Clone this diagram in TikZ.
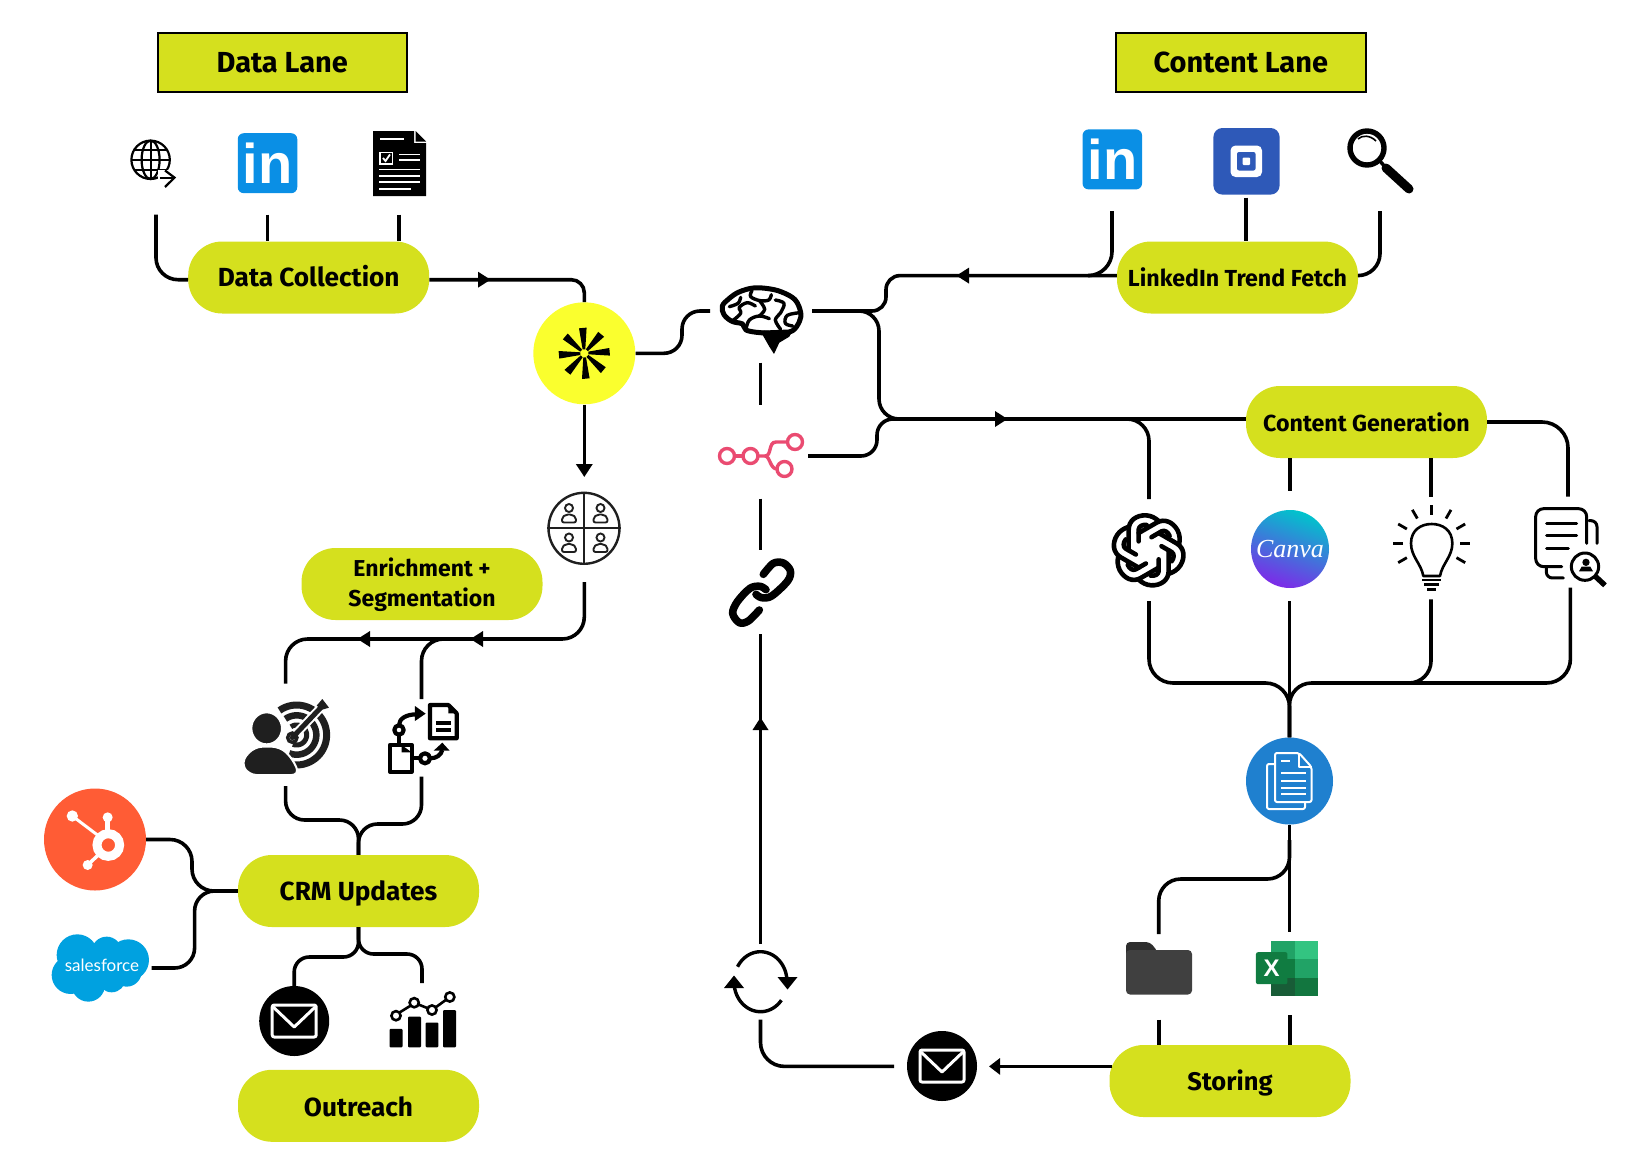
\documentclass[tikz,border=0pt]{standalone}
\usepackage{fontspec}
\setmainfont{Fira Sans}
\newfontfamily\lab{Fira Sans}
\newfontfamily\sflogo{Lato}
\newfontfamily\inlogo{Liberation Sans}
\newfontfamily\canvafont{Liberation Serif}
\usetikzlibrary{arrows.meta,shapes.geometric}
\definecolor{lime}{HTML}{D5E01E}
\definecolor{ylw}{HTML}{FAFF2E}
\definecolor{libl}{HTML}{0A8FE5}
\definecolor{sqbl}{HTML}{2E59B8}
\definecolor{n8n}{HTML}{EA4B71}
\definecolor{docbl}{HTML}{1F80CF}
\definecolor{hub}{HTML}{FF5C35}
\definecolor{sfbl}{HTML}{00A1E0}
\definecolor{ink}{HTML}{1F1F1F}
\definecolor{xa}{HTML}{21A366}
\definecolor{xb}{HTML}{33C481}
\definecolor{xc}{HTML}{107C41}
\definecolor{xd}{HTML}{185C37}
\definecolor{cva}{HTML}{00C4CC}
\definecolor{cvb}{HTML}{2F7FE0}
\definecolor{cvc}{HTML}{7D2AE8}
\definecolor{fa}{HTML}{404040}
\definecolor{fb}{HTML}{2E2E2E}
\tikzset{
 wire/.style={line width=3.6pt,line cap=butt,black},
 pill/.style={rectangle,rounded corners=34pt,fill=lime,minimum width=241pt,minimum height=72pt,inner sep=0pt,align=center,text height=18pt,text depth=0pt,font=\lab\bfseries\fontsize{26.2}{29}\selectfont},
 pillsmall/.style={pill,font=\lab\bfseries\fontsize{23.2}{29}\selectfont},
 pilltwo/.style={rectangle,rounded corners=34pt,fill=lime,minimum width=241pt,minimum height=72pt,inner sep=0pt,align=center,font=\lab\bfseries\fontsize{23}{29.5}\selectfont},
 lane/.style={rectangle,fill=lime,draw=black,line width=2.4pt,minimum width=249pt,minimum height=59pt,inner sep=0pt,text height=20pt,text depth=0pt,font=\lab\bfseries\fontsize{29}{32}\selectfont},
 disc/.style={circle,inner sep=0pt,minimum size=#1},
 linked/.style={rectangle,rounded corners=6pt,fill=libl,minimum width=59.5pt,minimum height=60pt,inner sep=0pt,text=white,font=\inlogo\bfseries\fontsize{56}{56}\selectfont},
 midtip/.pic={\fill[black] (6.5,0) -- (-6,-8) -- (-6,8) -- cycle;},
 mail/.pic={\draw[white,line width=3pt,rounded corners=2pt,line join=round] (-22,-16) rectangle (22,16);
   \draw[white,line width=3pt,line join=round] (-21,-14) -- (0,6) -- (21,-14);},
 person/.pic={\draw[ink,line width=1.9pt] (0,-5.5) circle (4);
   \draw[ink,line width=1.9pt,line join=round,rounded corners=2pt] (-7,9) -- (-7,4) -- (-3,1) -- (3,1) -- (7,4) -- (7,9) -- cycle;},
}
\begin{document}
\begin{tikzpicture}[x=1pt,y=-1pt]
\useasboundingbox (0,0) rectangle (1637,1164);
% ---------- boxes and discs
\node[lane] (dl) at (282.3,62.3) {Data Lane};
\node[lane,minimum width=250pt] (cl) at (1240.8,62.3) {Content Lane};
\node[pill] (dc) at (308.7,277.5) {Data Collection};
\node[pillsmall] (ltf) at (1237.5,277.5) {LinkedIn Trend Fetch};
\node[pillsmall] (cg) at (1366.5,422) {Content Generation};
\node[pilltwo] (enr) at (422,584) {\rule{0pt}{20pt}Enrichment +\\Segmentation};
\node[pill] (crm) at (358.5,891) {CRM Updates};
\node[pill,text height=21pt] (out) at (358.5,1105.8) {Outreach};
\node[pill,font=\lab\bfseries\fontsize{25.5}{29}\selectfont] (st) at (1230,1081) {Storing};
\node[disc=102pt,fill=ylw] (yc) at (584.3,353.3) {};
\node[disc=87pt,fill=docbl] (bc) at (1289.5,781) {};
\node[disc=102pt,fill=hub] (hs) at (95,839.5) {};
\node[disc=70pt,fill=black] (env1) at (942,1066) {};
\node[disc=70pt,fill=black] (env2) at (294.2,1021) {};
\node[disc=71pt,draw=ink,line width=2.4pt,fill=white] (gi) at (584,528.3) {};
% ---------- free ends
\coordinate (sglobe) at (156,214.6);
\coordinate (sli) at (267.3,214.6);
\coordinate (sdoc) at (399,214.6);
\coordinate (sbrL) at (710,311);
\coordinate (sbrR) at (812,311);
\coordinate (sbrB) at (760.5,362.6);
\coordinate (sn8T) at (760.5,405);
\coordinate (sn8B) at (760.5,498.7);
\coordinate (schT) at (760.5,550);
\coordinate (schB) at (760.5,634);
\coordinate (srfT) at (760.5,944);
\coordinate (srfB) at (760.5,1019.5);
\coordinate (sn8R) at (808,456);
\coordinate (gtip) at (584.3,477);
\coordinate (sgiB) at (584.3,582);
\coordinate (stT) at (285.6,683.5);
\coordinate (stB) at (285.6,786);
\coordinate (swT) at (421.5,699);
\coordinate (swB) at (421.5,776.6);
\coordinate (jenr) at (480,639);
\coordinate (ssf) at (151.7,968);
\coordinate (schart) at (422,983);
\coordinate (sli2) at (1112,211);
\coordinate (jlt) at (1090,275.6);
\coordinate (ssq) at (1245.7,197.6);
\coordinate (slens) at (1380,211);
\coordinate (joa) at (1115,419);
\coordinate (soaT) at (1149,499);
\coordinate (soaB) at (1149,601);
\coordinate (scvT) at (1290,491);
\coordinate (scvB) at (1289.5,601);
\coordinate (sbuT) at (1431,496.5);
\coordinate (sbuB) at (1431,599.4);
\coordinate (sdsT) at (1568,496.5);
\coordinate (sdsB) at (1570.4,587.5);
\coordinate (jds) at (1400,683);
\coordinate (jbl) at (1289.5,840);
\coordinate (sxlT) at (1289.5,932);
\coordinate (sxlB) at (1290,1015);
\coordinate (sfoT) at (1158.7,934);
\coordinate (sfoB) at (1158.7,1019.5);
\coordinate (etip) at (989,1066.4);
\coordinate (senv) at (894,1066.4);
% ---------- connectors
\draw[wire,rounded corners=22pt] (sglobe) -- (156,279.7) -- ([yshift=-2.2pt]dc.west);
\draw[wire] (sli) -- (sli |- dc.north);
\draw[wire] (sdoc) -- (sdoc |- dc.north);
\draw[wire,rounded corners=13pt] ([yshift=-2.2pt]dc.east) -- (584.3,279.7) -- (yc.north);
\pic at (484,279.7) {midtip};
\draw[wire,rounded corners=18pt] (yc.east) -- (682,353.3) -- (682,311) -- (sbrL);
\draw[wire,-{Triangle[length=13pt,width=16pt]}] (yc.south) -- (gtip);
\draw[wire] (sbrB) -- (sn8T);
\draw[wire] (sn8B) -- (schT);
\draw[wire,rounded corners=22pt] (sgiB) -- (584.3,639) -- (285.6,639) -- (stT);
\draw[wire,rounded corners=22pt] (jenr) -- (421.5,639) -- (swT);
\pic[rotate=180] at (477,639) {midtip};
\pic[rotate=180] at (364,639) {midtip};
\draw[wire,rounded corners=19pt] (stB) -- (285.6,820) -- (358.5,820) -- (crm.north);
\draw[wire,rounded corners=19pt] (swB) -- (421.5,824) -- (358.5,824) -- (crm.north);
\draw[wire,rounded corners=22pt] (hs.east) -- (192,839.5) -- (192,891) -- (crm.west);
\draw[wire,rounded corners=20pt] (ssf) -- (194.6,968) -- (194.6,891) -- (crm.west);
\draw[wire,rounded corners=15pt] (crm.south) -- (358.5,957) -- (294.2,957) -- (env2.north);
\draw[wire,rounded corners=15pt] (crm.south) -- (358.5,954) -- (422,954) -- (schart);
\draw[wire,rounded corners=24pt] (sli2) -- (1112,275.6) -- (jlt);
\draw[wire] (ssq) -- (ssq |- ltf.north);
\draw[wire,rounded corners=22pt] (slens) -- (1380,275.6) -- ([yshift=1.9pt]ltf.east);
\draw[wire,rounded corners=14pt] ([yshift=1.9pt]ltf.west) -- (886,275.6) -- (886,311) -- (sbrR);
\pic[rotate=180] at (963,275.6) {midtip};
\draw[wire,rounded corners=20pt] (sbrR) -- (879,311) -- (879,419) -- ([yshift=3pt]cg.west);
\draw[wire,rounded corners=16pt] (sn8R) -- (877,456) -- (877,419) -- (920,419);
\pic at (1001,419) {midtip};
\draw[wire,rounded corners=22pt] (joa) -- (1149,419) -- (soaT);
\draw[wire,rounded corners=26pt] (cg.east) -- (1568,422) -- (sdsT);
\draw[wire] (scvT |- cg.south) -- (scvT);
\draw[wire] (sbuT |- cg.south) -- (sbuT);
\draw[wire,rounded corners=24pt] (soaB) -- (1149,683) -- (1289.5,683) -- (bc.north);
\draw[wire] (scvB) -- (bc.north);
\draw[wire,rounded corners=22pt] (sbuB) -- (1431,683) -- (1289.5,683) -- (bc.north);
\draw[wire,rounded corners=24pt] (sdsB) -- (1570.4,683) -- (jds);
\draw[wire] (bc.south) -- (sxlT);
\draw[wire,rounded corners=22pt] (jbl) -- (1289.5,879) -- (1158.7,879) -- (sfoT);
\draw[wire] (sfoB) -- (sfoB |- st.north);
\draw[wire] (sxlB) -- (sxlB |- st.north);
\draw[wire,-{Triangle[length=11pt,width=16pt]}] ([yshift=14.6pt,xshift=3pt]st.west) -- (etip);
\draw[wire,rounded corners=24pt] (senv) -- (760.5,1066.4) -- (srfB);
\draw[wire] (srfT) -- (schB);
\pic[rotate=90] at (760.5,724) {midtip};
% ---------- envelopes
\pic at (env1) {mail};
\pic at (env2) {mail};
% ---------- globe
\begin{scope}[line width=2.2pt,black]
 \draw (150.6,159.8) circle (19.2);
 \draw (150.6,159.8) ellipse (9 and 19.2);
 \draw (150.6,140.6) -- (150.6,179);
 \draw (131.4,159.8) -- (169.8,159.8);
 \draw (134,150) -- (167,150);
 \draw (134,169.6) -- (167,169.6);
 \fill[white] (158,170) rectangle (176,190);
 \draw (159.5,177.6) -- (174,177.6);
 \draw[line join=miter] (165,170.5) -- (174.5,177.6) -- (165,187);
\end{scope}
% ---------- LinkedIn
\node[linked] (li1) at (267.5,163.2) {in};
\node[linked] (li2) at (1112.3,159.4) {in};
% ---------- form document
\fill[black] (373,131) -- (414,131) -- (414,143) -- (426,143) -- (426,196) -- (373,196) -- cycle;
\fill[black] (415.5,131) -- (426,141.5) -- (415.5,141.5) -- cycle;
\begin{scope}[white,line width=1.8pt]
 \draw (380,139) -- (404,139);
 \draw (380,152.5) rectangle (392.5,164);
 \draw (383,158) -- (385.5,161) -- (390,154.5);
 \draw (399,154.5) -- (420,154.5);
 \draw (399,160) -- (420,160);
 \draw (379,169.5) -- (420,169.5);
 \draw (379,176) -- (420,176);
 \draw (379,182) -- (420,182);
 \draw (379,188.6) -- (411,188.6);
\end{scope}
% ---------- square logo
\fill[sqbl,rounded corners=9pt] (1213.4,128) rectangle (1279.6,194.6);
\fill[white,rounded corners=5pt] (1230.5,145.5) rectangle (1262,177);
\fill[sqbl,rounded corners=2pt] (1237,152) rectangle (1255.5,170.5);
\fill[white,rounded corners=1pt] (1242.5,157.5) rectangle (1250,165);
% ---------- lens
\draw[line width=5.4pt,black] (1367,148) circle (17);
\draw[line width=1.6pt,black] (1358,139) .. controls (1362,135) and (1370,135) .. (1376,141);
\draw[line width=3.5pt,black] (1379,160) -- (1386,168);
\draw[line width=9pt,black,line cap=round] (1386,168) -- (1409,189);
% ---------- yellow disc mark
\foreach \a in {0,45,...,315}
 \fill[black,rotate around={\a:(584.3,353.3)}] (579,328.3) -- (586.6,327.6) -- (585.3,349.3) -- (582.6,349.3) -- cycle;
% ---------- brain
\begin{scope}[shift={(710,280)},x=.3333pt,y=-.3333pt,line join=round,line cap=round,black]
 \draw[line width=5pt] plot[smooth cycle,tension=.6] coordinates {(150,158) (108,150) (98,132) (66,124) (42,104) (37,78) (57,56) (87,36) (130,24) (175,26) (215,36) (255,59) (272,97) (268,125) (248,152) (215,160)};
 \fill (150,152) -- (250,148) -- (238,170) -- (208,188) -- (192,222) -- (178,200) -- (162,172) -- cycle;
 \draw[line width=3.4pt] plot[smooth,tension=.6] coordinates {(92,52) (84,70) (58,80)};
 \draw[line width=3.4pt] plot[smooth,tension=.6] coordinates {(68,122) (92,100) (88,82) (112,68) (136,78)};
 \draw[line width=3.4pt] plot[smooth,tension=.6] coordinates {(108,148) (118,120) (148,108) (178,116)};
 \draw[line width=3.4pt] plot[smooth,tension=.6] coordinates {(126,32) (122,50) (150,62) (176,60) (184,44)};
 \draw[line width=3.4pt] plot[smooth,tension=.6] coordinates {(150,64) (164,88) (148,108)};
 \draw[line width=3.4pt] plot[smooth,tension=.6] coordinates {(196,60) (222,70) (212,98) (196,120) (212,148)};
 \draw[line width=3.4pt] plot[smooth,tension=.6] coordinates {(270,98) (232,106) (226,130) (248,138)};
\end{scope}
% ---------- n8n
\begin{scope}[n8n,line width=3.4pt]
 \draw (727,456) circle (7.5);
 \draw (750.5,456) circle (7.5);
 \draw (795,442) circle (7.5);
 \draw (784.5,469) circle (7.5);
 \draw (734.5,456) -- (743,456);
 \draw (758,456) -- (765,456) .. controls (772,456) and (768,442) .. (776,442) -- (787.5,442);
 \draw (765,456) .. controls (770,456) and (770,469) .. (777,469);
\end{scope}
% ---------- chain link
\begin{scope}[shift={(720,555)},x=.3333pt,y=-.3333pt,black,line width=7.6pt,line cap=round,line join=round]
 \draw plot[smooth,tension=.55] coordinates {(118,165) (85,198) (58,203) (38,175) (52,140) (90,100) (120,94) (138,104)};
 \draw plot[smooth,tension=.55] coordinates {(108,118) (125,128) (155,123) (203,78) (211,47) (190,24) (160,25) (130,58)};
\end{scope}
% ---------- refresh
\begin{scope}[black,line width=3.4pt]
 \draw plot[domain=150:6,samples=30] ({760.5+26.5*cos(\x)},{981.7-30*sin(\x)});
 \draw plot[domain=186:322,samples=30] ({760.5+26.5*cos(\x)},{981.7-30*sin(\x)});
 \fill (777.5,977) -- (797.5,977) -- (787.5,989.5) -- cycle;
 \fill (724,988) -- (744,988) -- (734,975.5) -- cycle;
\end{scope}
% ---------- group grid
\draw[ink,line width=2.2pt] (gi.north) -- (gi.south);
\draw[ink,line width=2.2pt] (gi.west) -- (gi.east);
\pic at (569,513.5) {person};
\pic at (600.5,513.5) {person};
\pic at (569,543) {person};
\pic at (600.5,543) {person};
% ---------- target person
\begin{scope}[shift={(235,695)},x=.3333pt,y=-.3333pt,line cap=butt]
 \foreach \r/\w in {90/7,59/6.5,30/5}
  {\draw[ink,line width=\w pt] plot[domain=125:-112,samples=40] ({185+\r*cos(\x)},{120-\r*sin(\x)});}
 \draw[white,line width=9pt] (172,128) -- (262,33);
 \draw[ink,line width=5pt,line cap=round] (172,128) -- (262,33);
 \fill[ink] (262,12) -- (282,38) -- (262,44) -- (245,32) -- cycle;
 \draw[ink,line width=3.4pt] (172,128) circle (14);
 \fill[ink,draw=white,line width=2pt,rounded corners=8pt] (18,200) -- (58,155) -- (135,155) -- (172,190) -- (194,240) -- (40,240) -- cycle;
 \fill[ink,draw=white,line width=2pt] (95,100) ellipse (46 and 48);
\end{scope}
% ---------- workflow
\begin{scope}[shift={(235,695)},x=.3333pt,y=-.3333pt,black,line width=4.2pt,line join=round]
 \draw (585,30) -- (640,30) -- (665,55) -- (665,130) -- (585,130) -- cycle;
 \fill (640,30) -- (665,55) -- (640,55) -- cycle;
 \draw (603,85) -- (648,85);
 \draw (603,106) -- (648,106);
 \draw (492,105) circle (14);
 \draw (492,91) .. controls (492,70) and (515,58) .. (545,58);
 \fill (540,33) -- (572,56) -- (540,78) -- cycle;
 \draw (492,119) -- (492,150);
 \draw (465,150) rectangle (530,230);
 \fill (500,150) -- (530,172) -- (500,172) -- cycle;
 \draw (530,190) -- (555,190);
 \draw (570,190) circle (15);
 \draw (585,190) .. controls (605,190) and (618,180) .. (622,165);
 \fill (596,167) -- (622,143) -- (644,167) -- cycle;
\end{scope}
% ---------- OpenAI knot
\begin{scope}[shift={(1105,500)},x=.3333pt,y=-.3333pt,black,line width=4.6pt,line join=round,line cap=round]
 \foreach \a in {0,60,...,300}{
 \begin{scope}[shift={(131,151)},rotate=\a]
  \draw (-60,0) -- (-60,-62) .. controls (-60,-90) and (-36,-106) .. (-8,-105) .. controls (8,-104) and (20,-97) .. (30,-88);
  \draw (-30,-27) -- (-30,-62) .. controls (-30,-72) and (-18,-78) .. (-6,-76);
 \end{scope}}
\end{scope}
% ---------- Canva
\shade[shading=axis,top color=cva,middle color=cvb,bottom color=cvc,shading angle=-20] (1290,549) circle (39);
\node[text=white,font=\canvafont\itshape\fontsize{26}{26}\selectfont] (cvt) at (1290,549) {Canva};
% ---------- bulb
\begin{scope}[shift={(1385,500)},x=.3333pt,y=-.3333pt,black,line cap=butt]
 \draw[line width=2.6pt,line join=round] (115,228) .. controls (108,190) and (78,170) .. (78,130) .. controls (78,90) and (108,72) .. (140,72) .. controls (172,72) and (202,90) .. (202,130) .. controls (202,170) and (172,190) .. (165,228) -- cycle;
 \draw[line width=2.6pt] (112,240) -- (168,240);
 \draw[line width=2.6pt] (117,254) -- (163,254);
 \draw[line width=2.6pt] (126,268) -- (154,268);
 \foreach \a in {90,60,120,30,150,0,180,-30,210}
  {\draw[line width=2.8pt] ({140+86*cos(\a)},{130-86*sin(\a)}) -- ({140+116*cos(\a)},{130-116*sin(\a)});}
\end{scope}
% ---------- document search
\begin{scope}[shift={(1385,500)},x=.3333pt,y=-.3333pt,black,line width=3pt,line join=round,line cap=round]
 \draw[rounded corners=8pt] (605,130) -- (605,26) -- (452,26) -- (452,200) -- (530,200);
 \draw[rounded corners=6pt] (612,62) -- (636,62) -- (636,130);
 \draw[rounded corners=6pt] (484,200) -- (484,234) -- (535,234);
 \draw (485,70) -- (575,70);
 \draw (485,107) -- (575,107);
 \draw (485,145) -- (550,145);
 \draw (600,200) circle (41);
 \fill (603,187) circle (11);
 \fill (582,214) -- (590,200) -- (616,200) -- (624,214) -- cycle;
 \draw[line width=5.4pt,line cap=butt] (632,230) -- (660,256);
\end{scope}
% ---------- blue document
\begin{scope}[white,line width=2pt,line join=round]
 \draw[rounded corners=2pt] (1275,764) -- (1267,764) -- (1267,809) -- (1305,809) -- (1305,802);
 \draw[rounded corners=2pt,fill=docbl] (1275,753) -- (1299,753) -- (1311.5,767) -- (1311.5,802) -- (1275,802) -- cycle;
 \draw (1299,753) -- (1299,767) -- (1311.5,767);
 \draw (1281,761) -- (1290,761);
 \draw (1281,773) -- (1306,773);
 \draw (1281,780.5) -- (1306,780.5);
 \draw (1281,787.5) -- (1306,787.5);
 \draw (1281,794) -- (1306,794);
\end{scope}
% ---------- folder
\fill[fb,rounded corners=4pt] (1126,960) -- (1126,942) -- (1150,942) -- (1158,952) -- (1158,960) -- cycle;
\fill[fa,rounded corners=4pt] (1126,950) rectangle (1192,994.5);
% ---------- Excel
\fill[xa] (1271,940.5) rectangle (1295,959);
\fill[xb] (1295,940.5) rectangle (1318,959);
\fill[xc] (1271,959) rectangle (1295,977.5);
\fill[xa] (1295,959) rectangle (1318,977.5);
\fill[xc!80!xd] (1295,977.5) rectangle (1318,996);
\fill[xd] (1271,977.5) rectangle (1295,996);
\node[rectangle,rounded corners=2pt,fill=xc,minimum width=31.5pt,minimum height=32pt,inner sep=0pt,text=white,font=\inlogo\bfseries\fontsize{24}{24}\selectfont] (xx) at (1271.7,968.2) {X};
% ---------- HubSpot
\begin{scope}[shift={(40,785)},x=.3333pt,y=-.3333pt,white]
 \draw[line width=9pt] (205,180) circle (34);
 \fill (97,93) circle (17);
 \fill (203,97) circle (15);
 \fill (143,240) circle (15);
 \draw[line width=3pt] (97,93) -- (175,152);
 \draw[line width=4.5pt] (203,97) -- (203,140);
 \draw[line width=3.5pt] (143,240) -- (180,205);
\end{scope}
% ---------- Salesforce
\begin{scope}[shift={(40,785)},x=.3333pt,y=-.3333pt,sfbl]
 \fill (112,510) circle (62);
 \fill (200,500) circle (45);
 \fill (265,525) circle (62);
 \fill (92,570) circle (57);
 \fill (145,600) circle (50);
 \fill (215,580) circle (42);
 \fill (260,560) circle (45);
 \fill (100,510) rectangle (270,590);
\end{scope}
\node[text=white,font=\sflogo\fontsize{17}{17}\selectfont,inner sep=0pt] (sft) at (102,965.5) {salesforce};
% ---------- chart
\begin{scope}[black]
 \fill[rounded corners=1pt] (389.6,1028.8) rectangle (402.5,1047.4);
 \fill[rounded corners=1pt] (408,1016.5) rectangle (421,1047.4);
 \fill[rounded corners=1pt] (425.7,1022.5) rectangle (438.3,1047.4);
 \fill[rounded corners=1pt] (443,1010) rectangle (456,1047.4);
 \draw[line width=2.6pt] (396,1015.7) circle (4.6);
 \draw[line width=2.6pt] (414.2,1002.7) circle (4.6);
 \draw[line width=2.6pt] (432,1010) circle (4.6);
 \draw[line width=2.6pt] (449.8,997) circle (4.6);
 \draw[line width=2.6pt] (399.5,1012.5) -- (410.8,1005.5);
 \draw[line width=2.6pt] (418.5,1004.5) -- (427.7,1008.2);
 \draw[line width=2.6pt] (435.7,1007.3) -- (446,999.8);
\end{scope}
\end{tikzpicture}
\end{document}
